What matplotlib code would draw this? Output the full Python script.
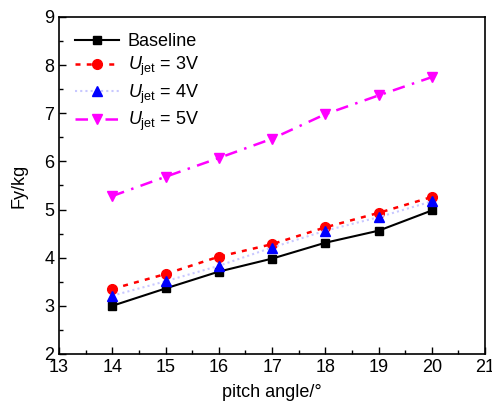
import matplotlib
matplotlib.use('Agg')
import matplotlib.pyplot as plt
from matplotlib.ticker import MultipleLocator

plt.rcParams['font.family'] = ['Liberation Sans', 'DejaVu Sans']
plt.rcParams['mathtext.fontset'] = 'custom'
plt.rcParams['mathtext.rm'] = 'Liberation Sans'
plt.rcParams['mathtext.it'] = 'Liberation Sans:italic'

pitch = [14, 15, 16, 17, 18, 19, 20]
baseline = [3.00, 3.36, 3.71, 3.98, 4.31, 4.56, 4.98]
jet_3v = [3.35, 3.66, 4.02, 4.28, 4.63, 4.93, 5.26]
jet_4v = [3.21, 3.51, 3.83, 4.21, 4.56, 4.84, 5.17]
jet_5v = [5.28, 5.68, 6.07, 6.47, 6.98, 7.37, 7.75]

fig = plt.figure(figsize=(4.92, 4.13), dpi=100)
ax = fig.add_axes([0.12, 0.143, 0.866, 0.816])

ax.plot(pitch, baseline, color='black', lw=1.5, marker='s', ms=6, label='Baseline')
ax.plot(pitch, jet_3v, color='red', lw=1.8, ls=(0, (2, 2.5)), marker='o', ms=7,
        label=r'$U_{\rm jet}$ = 3V')
ax.plot(pitch, jet_4v, color='#c8c8ff', lw=1.5, ls=(0, (1, 1.5)), marker='^', ms=7,
        mfc='blue', mec='blue', label=r'$U_{\rm jet}$ = 4V')
ax.plot(pitch, jet_5v, color='magenta', lw=1.8, ls=(0, (5, 3, 1, 3)), marker='v', ms=7,
        label=r'$U_{\rm jet}$ = 5V')

ax.set_xlim(13, 21)
ax.set_ylim(2, 9)
ax.xaxis.set_major_locator(MultipleLocator(1))
ax.xaxis.set_minor_locator(MultipleLocator(0.5))
ax.yaxis.set_major_locator(MultipleLocator(1))
ax.yaxis.set_minor_locator(MultipleLocator(0.5))
ax.tick_params(which='both', direction='in', labelsize=13, top=False, right=False)
ax.tick_params(which='major', length=5, width=1)
ax.tick_params(which='minor', length=3, width=1)
for s in ax.spines.values():
    s.set_linewidth(1.2)

ax.set_xlabel('pitch angle/°', fontsize=13, labelpad=6)
ax.set_ylabel('Fy/kg', fontsize=13, labelpad=12)

ax.legend(loc='upper left', frameon=False, fontsize=13, handlelength=2.4,
          borderaxespad=0.5, labelspacing=0.25, handletextpad=0.5)

fig.savefig('out.png', dpi=100)
